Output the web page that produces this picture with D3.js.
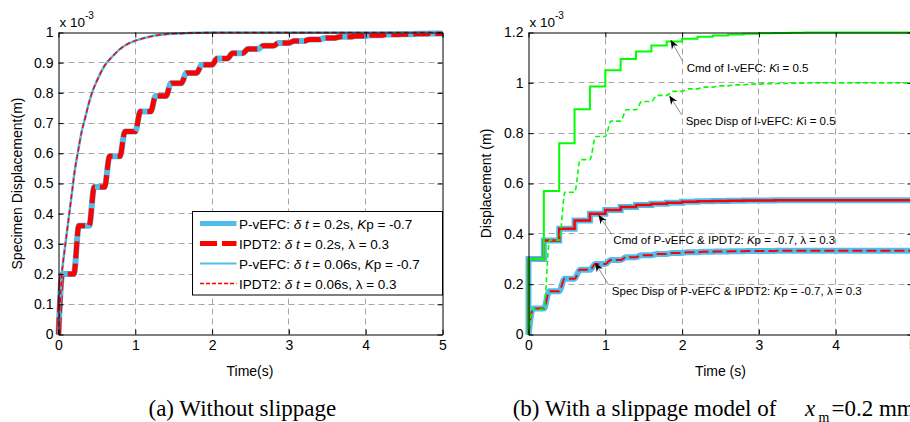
<!DOCTYPE html>
<html><head><meta charset="utf-8">
<script src="https://cdn.jsdelivr.net/npm/d3@7"></script>
<style>body{margin:0;background:#fff}svg{display:block}</style>
</head><body>
<svg id="c" width="910" height="422"></svg>
<script>
// ---------------- data ----------------
const xTicks = [0, 1, 2, 3, 4, 5];
const yTicksA = [0, 0.1, 0.2, 0.3, 0.4, 0.5, 0.6, 0.7, 0.8, 0.9, 1];
const yTicksB = [0, 0.2, 0.4, 0.6, 0.8, 1, 1.2];

// (a) δt = 0.06 s response (P-vEFC and IPDT2 coincide), displacement in 1e-3 m
const fastT = [0, 0.02, 0.04, 0.06, 0.09, 0.12, 0.15, 0.18, 0.21, 0.25, 0.3, 0.35, 0.4, 0.45, 0.5, 0.6, 0.7, 0.8, 0.9, 1.0, 1.2, 1.4, 1.6, 1.8, 2.0, 3.0, 4.0, 5.0];
const fastV = [0, 0.1, 0.19, 0.24, 0.3, 0.36, 0.42, 0.48, 0.54, 0.6, 0.67, 0.72, 0.77, 0.81, 0.84, 0.89, 0.92, 0.945, 0.962, 0.973, 0.987, 0.994, 0.997, 0.999, 1.0, 1.0, 1.0, 1.0];

// step instants (s)
const stepT = [0, 0.2, 0.4, 0.6, 0.8, 1.0, 1.2, 1.4, 1.6, 1.8, 2.0, 2.2, 2.4, 2.6, 2.8, 3.0, 3.2, 3.4, 3.6, 3.8, 4.0, 4.2, 4.4, 4.6, 4.8];

// (a) δt = 0.2 s response: level reached after each step
const slowLevels = [0.2, 0.36, 0.488, 0.59, 0.672, 0.738, 0.79, 0.832, 0.866, 0.893, 0.914, 0.931, 0.945, 0.956, 0.965, 0.972, 0.977, 0.982, 0.986, 0.988, 0.991, 0.993, 0.994, 0.996, 0.997];

// (b) with slippage
const cmdI  = [0.30, 0.57, 0.76, 0.895, 0.985, 1.05, 1.095, 1.125, 1.148, 1.164, 1.175, 1.183, 1.188, 1.192, 1.195, 1.197, 1.198, 1.199, 1.2, 1.2, 1.2, 1.2, 1.2, 1.2, 1.2];
const dispI = [0.1, 0.375, 0.565, 0.695, 0.787, 0.848, 0.893, 0.926, 0.95, 0.966, 0.976, 0.983, 0.988, 0.992, 0.995, 0.997, 0.998, 0.999, 1.0, 1.0, 1.0, 1.0, 1.0, 1.0, 1.0];
const cmdP  = [0.30, 0.374, 0.42, 0.453, 0.48, 0.495, 0.507, 0.515, 0.52, 0.524, 0.527, 0.529, 0.53, 0.531, 0.532, 0.532, 0.533, 0.533, 0.533, 0.533, 0.533, 0.533, 0.533, 0.533, 0.533];
const dispP = [0.103, 0.172, 0.222, 0.257, 0.28, 0.296, 0.307, 0.315, 0.32, 0.324, 0.327, 0.329, 0.33, 0.331, 0.332, 0.332, 0.333, 0.333, 0.333, 0.333, 0.333, 0.333, 0.333, 0.333, 0.333];

// ---------------- drawing ----------------
const svg = d3.select('#c');
svg.append('rect').attr('width', 910).attr('height', 422).attr('fill', '#fff');
const SANS = '"Liberation Sans", Arial, Helvetica, sans-serif';
const SERIF = '"Liberation Serif", "Times New Roman", serif';
const BLUE = '#4DBEEE', RED = '#FF0000', GREEN = '#00FF00';

const xA = d3.scaleLinear().domain([0, 5]).range([58.5, 442.5]);
const yA = d3.scaleLinear().domain([0, 1]).range([334.5, 32.5]);
const xB = d3.scaleLinear().domain([0, 5]).range([528.5, 912.5]);
const yB = d3.scaleLinear().domain([0, 1.2]).range([334.5, 32.5]);

const crisp = v => Math.round(v - 0.5) + 0.5;

function stairPts(levels, rise, firstRise) {
  const pts = [[0, 0]];
  let prev = 0;
  stepT.forEach((s, k) => {
    if (k > 0) pts.push([s, prev]);
    pts.push([s + (k === 0 ? firstRise : rise), levels[k]]);
    prev = levels[k];
  });
  pts.push([5, prev]);
  return pts;
}
function stepPts(levels) {
  const pts = [[0, 0]];
  stepT.forEach((s, k) => pts.push([s, levels[k]]));
  pts.push([5, levels[levels.length - 1]]);
  return pts;
}

function grid(g, x, y, xt, yt) {
  const xd = x.domain(), yd = y.domain();
  g.selectAll('line.vg').data(xt.filter(d => d > xd[0] && d < xd[1])).join('line')
    .attr('class', 'vg')
    .attr('x1', d => crisp(x(d))).attr('x2', d => crisp(x(d)))
    .attr('y1', y.range()[0]).attr('y2', y.range()[1]);
  g.selectAll('line.hg').data(yt.filter(d => d > yd[0] && d < yd[1])).join('line')
    .attr('class', 'hg')
    .attr('y1', d => crisp(y(d))).attr('y2', d => crisp(y(d)))
    .attr('x1', x.range()[0]).attr('x2', x.range()[1]);
  g.selectAll('line').attr('stroke', '#a6a6a6').attr('stroke-width', 1).attr('stroke-dasharray', '6,4');
}

function axes(g, x, y, xt, yt) {
  const b = y.range()[0], t = y.range()[1], l = x.range()[0], r = x.range()[1];
  const style = sel => sel.attr('font-size', 14).attr('font-family', SANS)
    .call(s => s.selectAll('line,path').attr('stroke', '#000').attr('stroke-width', 1));
  g.append('g').attr('transform', `translate(0,${b})`)
    .call(d3.axisBottom(x).tickValues(xt).tickSizeInner(-5).tickSizeOuter(0).tickPadding(5.5).tickFormat(d => String(d)))
    .call(style);
  g.append('g').attr('transform', `translate(0,${t})`)
    .call(d3.axisTop(x).tickValues(xt).tickSizeInner(-5).tickSizeOuter(0).tickFormat(''))
    .call(style);
  g.append('g').attr('transform', `translate(${l},0)`)
    .call(d3.axisLeft(y).tickValues(yt).tickSizeInner(-5).tickSizeOuter(0).tickPadding(5).tickFormat(d => String(d)))
    .call(style);
  g.append('g').attr('transform', `translate(${r},0)`)
    .call(d3.axisRight(y).tickValues(yt).tickSizeInner(-5).tickSizeOuter(0).tickFormat(''))
    .call(style);
  g.selectAll('.tick text').attr('fill', '#000');
}

function expLabel(g, x0) {
  const t = g.append('text').attr('x', x0).attr('y', 26.5).attr('font-family', SANS).attr('font-size', 13.5).attr('fill', '#000');
  t.append('tspan').text('x 10');
  t.append('tspan').attr('font-size', 10).attr('dy', -8).text('-3');
}

function richText(sel, parts) {
  parts.forEach(p => {
    const ts = sel.append('tspan').text(p[0]);
    if (p[1]) ts.attr('font-style', 'italic');
  });
}

// ---------- panel (a) ----------
const gA = svg.append('g');
grid(gA.append('g'), xA, yA, xTicks, yTicksA);

const lineA = d3.line().x(d => xA(d[0])).y(d => yA(d[1])).curve(d3.curveMonotoneX);
const slowPts = stairPts(slowLevels, 0.065, 0.05);
const fastPts = fastT.map((t, i) => [t, fastV[i]]);

gA.append('path').attr('d', lineA(slowPts)).attr('fill', 'none').attr('stroke', BLUE).attr('stroke-width', 6);
gA.append('path').attr('d', lineA(slowPts)).attr('fill', 'none').attr('stroke', RED).attr('stroke-width', 5).attr('stroke-dasharray', '17,5');
gA.append('path').attr('d', lineA(fastPts)).attr('fill', 'none').attr('stroke', BLUE).attr('stroke-width', 2.5);
gA.append('path').attr('d', lineA(fastPts)).attr('fill', 'none').attr('stroke', RED).attr('stroke-width', 1.5).attr('stroke-dasharray', '5,3');

axes(gA, xA, yA, xTicks, yTicksA);
expLabel(gA, 59.5);

// legend
const legendItems = [
  {stroke: BLUE, w: 5, dash: null, parts: [['P-vEFC: ', 0], ['δ t', 1], [' = 0.2s, ', 0], ['K', 1], ['p = -0.7', 0]]},
  {stroke: RED, w: 5, dash: '17,5', parts: [['IPDT2: ', 0], ['δ t', 1], [' = 0.2s, λ = 0.3', 0]]},
  {stroke: BLUE, w: 2, dash: null, parts: [['P-vEFC: ', 0], ['δ t', 1], [' = 0.06s, ', 0], ['K', 1], ['p = -0.7', 0]]},
  {stroke: RED, w: 1.5, dash: '4,2', parts: [['IPDT2: ', 0], ['δ t', 1], [' = 0.06s, λ = 0.3', 0]]}
];
const lg = gA.append('g');
lg.append('rect').attr('x', 192.5).attr('y', 211.5).attr('width', 250).attr('height', 83.5)
  .attr('fill', '#fff').attr('stroke', '#000').attr('stroke-width', 1);
legendItems.forEach((it, i) => {
  const cy = 223.5 + i * 20;
  lg.append('line').attr('x1', 200).attr('x2', 236.5).attr('y1', cy).attr('y2', cy)
    .attr('stroke', it.stroke).attr('stroke-width', it.w).attr('stroke-dasharray', it.dash);
  const t = lg.append('text').attr('x', 239).attr('y', cy + 5).attr('font-family', SANS).attr('font-size', 13.5).attr('fill', '#000');
  richText(t, it.parts);
});

gA.append('text').attr('x', 250).attr('y', 376).attr('text-anchor', 'middle')
  .attr('font-family', SANS).attr('font-size', 14).text('Time(s)');
gA.append('text').attr('transform', 'translate(21.5,183.5) rotate(-90)').attr('text-anchor', 'middle')
  .attr('font-family', SANS).attr('font-size', 14).text('Specimen Displacement(m)');
gA.append('text').attr('x', 148.5).attr('y', 415.5).attr('font-family', SERIF).attr('font-size', 23)
  .text('(a) Without slippage');

// ---------- panel (b) ----------
const gB = svg.append('g');
grid(gB.append('g'), xB, yB, xTicks, yTicksB);
const lineBs = d3.line().x(d => xB(d[0])).y(d => yB(d[1])).curve(d3.curveMonotoneX);
const lineBstep = d3.line().x(d => xB(d[0])).y(d => yB(d[1])).curve(d3.curveStepAfter);

const dispPPts = stairPts(dispP, 0.07, 0.06);
const dispIPts = stairPts(dispI, 0.075, 0.06);
const cmdPPts = stepPts(cmdP);
const cmdIPts = stepPts(cmdI);

gB.append('path').attr('d', lineBstep(cmdPPts)).attr('fill', 'none').attr('stroke', BLUE).attr('stroke-width', 6);
gB.append('path').attr('d', lineBs(dispPPts)).attr('fill', 'none').attr('stroke', BLUE).attr('stroke-width', 6);
gB.append('path').attr('d', lineBstep(cmdPPts)).attr('fill', 'none').attr('stroke', RED).attr('stroke-width', 2.5);
gB.append('path').attr('d', lineBs(dispPPts)).attr('fill', 'none').attr('stroke', RED).attr('stroke-width', 2).attr('stroke-dasharray', '10,4');
gB.append('path').attr('d', lineBs(dispIPts)).attr('fill', 'none').attr('stroke', GREEN).attr('stroke-width', 1.6).attr('stroke-dasharray', '5,3');
gB.append('path').attr('d', lineBstep(cmdIPts)).attr('fill', 'none').attr('stroke', GREEN).attr('stroke-width', 2);

axes(gB, xB, yB, xTicks, yTicksB);
expLabel(gB, 529.5);

// annotations (data coordinates)
const notes = [
  {tip: [1.85, 1.171], tail: [2.01, 1.085], at: [2.06, 1.045], parts: [['Cmd of I-vEFC: ', 0], ['K', 1], ['i = 0.5', 0]]},
  {tip: [1.833, 0.950], tail: [1.995, 0.873], at: [2.047, 0.831], parts: [['Spec Disp of I-vEFC: ', 0], ['K', 1], ['i = 0.5', 0]]},
  {tip: [0.911, 0.476], tail: [1.085, 0.397], at: [1.105, 0.360], parts: [['Cmd of P-vEFC & IPDT2: ', 0], ['K', 1], ['p = -0.7, λ = 0.3', 0]]},
  {tip: [0.867, 0.285], tail: [1.04, 0.199], at: [1.085, 0.155], parts: [['Spec Disp of P-vEFC & IPDT2: ', 0], ['K', 1], ['p = -0.7, λ = 0.3', 0]]}
];
notes.forEach(n => {
  const tx = xB(n.tip[0]), ty = yB(n.tip[1]);
  const sx = xB(n.tail[0]), sy = yB(n.tail[1]);
  const dx = tx - sx, dy = ty - sy, L = Math.hypot(dx, dy);
  const ux = dx / L, uy = dy / L, nx = -uy, ny = ux;
  const hl = 9, hw = 3.6;
  gB.append('line').attr('x1', sx).attr('y1', sy).attr('x2', tx - ux * 4).attr('y2', ty - uy * 4)
    .attr('stroke', '#707070').attr('stroke-width', 0.8);
  gB.append('path').attr('d', `M${tx},${ty}L${tx - ux * hl + nx * hw},${ty - uy * hl + ny * hw}L${tx - ux * hl * 0.7},${ty - uy * hl * 0.7}L${tx - ux * hl - nx * hw},${ty - uy * hl - ny * hw}Z`)
    .attr('fill', '#000');
  const t = gB.append('text').attr('x', xB(n.at[0])).attr('y', yB(n.at[1]))
    .attr('font-family', SANS).attr('font-size', 11.5).attr('fill', '#000');
  richText(t, n.parts);
});

gB.append('text').attr('x', 720.5).attr('y', 376).attr('text-anchor', 'middle')
  .attr('font-family', SANS).attr('font-size', 14).text('Time (s)');
gB.append('text').attr('transform', 'translate(490.5,183.5) rotate(-90)').attr('text-anchor', 'middle')
  .attr('font-family', SANS).attr('font-size', 14).text('Displacement (m)');

const cap = gB.append('text').attr('y', 415.5).attr('font-family', SERIF).attr('font-size', 23).attr('fill', '#000');
cap.append('tspan').attr('x', 512.7).text('(b) With a slippage model of');
cap.append('tspan').attr('x', 805).attr('font-style', 'italic').text('x');
cap.append('tspan').attr('x', 818.5).attr('dy', 6).attr('font-size', 14).text('m');
cap.append('tspan').attr('x', 831.5).attr('dy', -6).text('=0.2 mm');
</script>
</body></html>
